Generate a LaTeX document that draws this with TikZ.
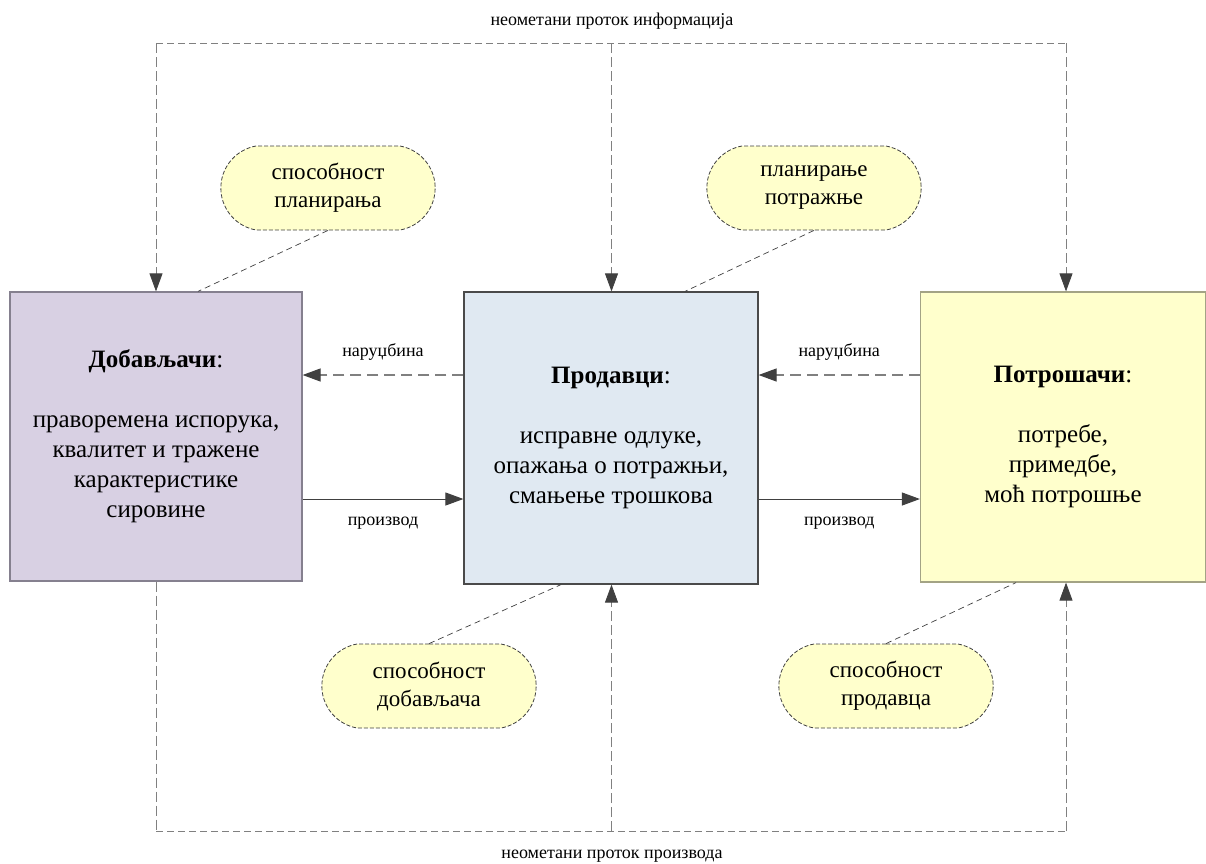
\documentclass[tikz,border=0pt]{standalone}
\usepackage{fontspec}
\setmainfont{Liberation Serif}
\usetikzlibrary{arrows.meta,shapes.misc,calc}

\definecolor{suppfill}{HTML}{D8D0E3}
\definecolor{suppdraw}{HTML}{85808F}
\definecolor{sellfill}{HTML}{E0E9F2}
\definecolor{selldraw}{HTML}{4A4A4A}
\definecolor{custfill}{HTML}{FFFFCC}
\definecolor{custdraw}{HTML}{A3A385}
\definecolor{bubfill}{HTML}{FFFFCC}
\definecolor{dark}{HTML}{404040}
\definecolor{midgray}{HTML}{808080}

\begin{document}
\begin{tikzpicture}[x=1pt,y=-1pt,
  box/.style={rectangle, line width=1.2pt, align=center,
    font=\fontsize{25}{30}\selectfont},
  bubble/.style={rounded rectangle, rounded rectangle arc length=160,
    minimum width=221pt, minimum height=84pt, fill=bubfill, draw=dark,
    line width=0.8pt, dash pattern=on 4pt off 2pt, align=center,
    font=\fontsize{23}{28}\selectfont},
  lbl/.style={font=\fontsize{18}{21}\selectfont, inner sep=0pt},
  tip/.style={-{Triangle[length=18pt,width=13pt,color=dark,fill=dark]}},
  flowline/.style={draw=midgray, line width=0.8pt, dash pattern=on 10pt off 4pt},
  flowrail/.style={draw=midgray, line width=0.8pt, dash pattern=on 7pt off 4pt},
  orderline/.style={draw=midgray, line width=1.2pt, dash pattern=on 11pt off 6pt},
  prodline/.style={draw=dark, line width=1pt},
  link/.style={draw=dark, line width=0.7pt, dash pattern=on 6pt off 4pt}]

\useasboundingbox (0,0) rectangle (1206,863);

% the three parties of the chain
\node[box, fill=suppfill, draw=suppdraw, minimum width=292pt, minimum height=289pt]
  (L) at (156,436.5)
  {\textbf{Добављачи}:\\[30pt]праворемена испорука,\\квалитет и тражене\\карактеристике\\сировине};
\node[box, fill=sellfill, draw=selldraw, minimum width=294pt, minimum height=292pt]
  (M) at (611,438)
  {\textbf{Продавци}:\\[30pt]исправне одлуке,\\опажања о потражњи,\\смањење трошкова};
\node[box, fill=custfill, draw=custdraw, minimum width=285pt, minimum height=290pt]
  (R) at (1063,437)
  {\textbf{Потрошачи}:\\[30pt]потребе,\\примедбе,\\моћ потрошње};

% capability bubbles
\node[bubble] (B1) at (328,188) {способност\\планирања};
\node[bubble] (B2) at (814,188) {планирање\\потражње};
\node[bubble] (B3) at (429,686) {способност\\добављача};
\node[bubble] (B4) at (886,686) {способност\\продавца};

\draw[link] (B1.south) -- ($(L.north)+(42,0)$);
\draw[link] (B2.south) -- ($(M.north)+(74,0)$);
\draw[link] (B3.north) -- ($(M.south)+(-50,0)$);
\draw[link] (B4.north) -- ($(R.south)+(-47,0)$);

% information rail on top
\coordinate (it1) at (156,43);
\coordinate (it2) at (611.5,43);
\coordinate (it3) at (1066,43);
\node[lbl] (itxt) at (612,21) {неометани проток информација};
\draw[flowrail] (it1) -- (it3);
\draw[flowline, tip] (it1) -- (L.north -| it1);
\draw[flowline, tip] (it2) -- (M.north -| it2);
\draw[flowline, tip] (it3) -- (R.north -| it3);

% product rail at the bottom
\coordinate (pb1) at (156,831);
\coordinate (pb2) at (611.5,831);
\coordinate (pb3) at (1066,831);
\node[lbl] (ptxt) at (612,856) {неометани проток производа};
\draw[flowline] (L.south -| pb1) -- (pb1);
\draw[flowrail] (pb1) -- (pb3);
\draw[flowline, tip] (pb2) -- (M.south -| pb2);
\draw[flowline, tip] (pb3) -- (R.south -| pb3);

% orders and products between neighbours
\draw[orderline, tip] (M.west |- 0,375) -- node[lbl, yshift=23pt] {наруџбина} (L.east |- 0,375);
\draw[orderline, tip] (R.west |- 0,375) -- node[lbl, yshift=23pt] {наруџбина} (M.east |- 0,375);
\draw[prodline, tip] (L.east |- 0,499) -- node[lbl, yshift=-24pt] {производ} (M.west |- 0,499);
\draw[prodline, tip] (M.east |- 0,499) -- node[lbl, yshift=-24pt] {производ} (R.west |- 0,499);

\end{tikzpicture}
\end{document}
